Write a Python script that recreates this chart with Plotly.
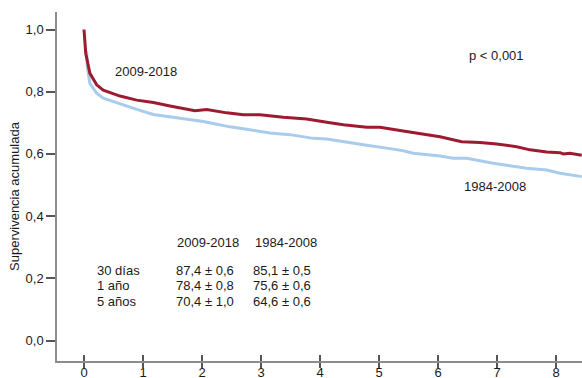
import plotly.graph_objects as go

# Kaplan-Meier survival, 2009-2018 cohort (years, cumulative survival)
t_recent = [0.0, 0.03, 0.10, 0.215, 0.327, 0.61, 0.893, 1.175, 1.458, 1.741, 1.881,
            2.08, 2.419, 2.70, 2.983, 3.378, 3.775, 4.114, 4.395, 4.792, 5.017,
            5.356, 5.695, 6.034, 6.402, 6.712, 6.995, 7.334, 7.559, 7.842, 8.068,
            8.124, 8.237, 8.436]
s_recent = [1.0, 0.923, 0.859, 0.822, 0.805, 0.786, 0.773, 0.765, 0.754, 0.743, 0.739,
            0.743, 0.732, 0.726, 0.726, 0.718, 0.712, 0.702, 0.694, 0.686, 0.686,
            0.675, 0.666, 0.655, 0.639, 0.637, 0.632, 0.623, 0.613, 0.606, 0.604,
            0.600, 0.602, 0.596]

# Kaplan-Meier survival, 1984-2008 cohort
t_old = [0.046, 0.056, 0.10, 0.215, 0.327, 0.61, 0.893, 1.175, 1.458, 1.741, 2.022,
         2.192, 2.475, 2.758, 3.153, 3.492, 3.886, 4.114, 4.453, 4.792, 5.186,
         5.412, 5.581, 6.034, 6.259, 6.486, 6.937, 7.276, 7.503, 7.842, 8.068, 8.436]
s_old = [0.929, 0.880, 0.827, 0.795, 0.779, 0.760, 0.743, 0.727, 0.720, 0.712, 0.704,
         0.698, 0.687, 0.679, 0.667, 0.662, 0.650, 0.648, 0.637, 0.628, 0.617,
         0.610, 0.602, 0.593, 0.586, 0.586, 0.570, 0.561, 0.554, 0.548, 0.538, 0.527]

x_ticks = [0, 1, 2, 3, 4, 5, 6, 7, 8]
y_ticks = [0.0, 0.2, 0.4, 0.6, 0.8, 1.0]
y_tick_labels = ["0,0", "0,2", "0,4", "0,6", "0,8", "1,0"]

# Summary table: survival (%) ± SE at fixed times
table_header = ["2009-2018", "1984-2008"]
table_rows = ["30 días", "1 año", "5 años"]
table_recent = ["87,4 ± 0,6", "78,4 ± 0,8", "70,4 ± 1,0"]
table_old = ["85,1 ± 0,5", "75,6 ± 0,6", "64,6 ± 0,6"]

RED = "#9e1b2f"
BLUE = "#a9cbec"
AXIS = "#8c8c8c"
TXT = "#1a1a1a"
FONT = "Liberation Sans, Arial, sans-serif"

fig = go.Figure()
fig.add_trace(go.Scatter(x=t_old, y=s_old, mode="lines",
                         line=dict(color=BLUE, width=3), hoverinfo="skip"))
fig.add_trace(go.Scatter(x=t_recent, y=s_recent, mode="lines",
                         line=dict(color=RED, width=3), hoverinfo="skip"))
# invisible trace to carry the overlay axis that draws the upper half of x ticks
fig.add_trace(go.Scatter(x=[x_ticks[0]], y=[0.5], xaxis="x2", mode="markers",
                         marker=dict(opacity=0), hoverinfo="skip"))

x_range = [-0.4576, 8.4407]
y_range = [-0.0659, 1.0563]

fig.update_layout(
    width=582, height=378,
    margin=dict(l=57, r=0, t=12, b=17),
    paper_bgcolor="white", plot_bgcolor="white",
    showlegend=False,
    font=dict(family=FONT, size=13, color=TXT),
    xaxis=dict(range=x_range, showgrid=False, zeroline=False, automargin=False,
               showline=True, linecolor=AXIS, linewidth=1.5,
               tickvals=x_ticks, ticks="outside", ticklen=5, tickwidth=1.5,
               tickcolor="#555555", tickfont=dict(size=13, color=TXT),
               ticklabelstandoff=-6),
    xaxis2=dict(range=x_range, overlaying="x", anchor="y", side="bottom",
                showgrid=False, zeroline=False, showline=False, automargin=False,
                tickvals=x_ticks, ticks="inside", ticklen=6, tickwidth=1.5,
                tickcolor="#555555", showticklabels=False),
    yaxis=dict(range=y_range, showgrid=False, zeroline=False, automargin=False,
               showline=True, linecolor=AXIS, linewidth=1.5,
               tickvals=y_ticks, ticktext=y_tick_labels,
               ticks="outside", ticklen=9, tickwidth=1.5, tickcolor="#555555",
               tickfont=dict(size=13, color=TXT), ticklabelstandoff=0),
)

anns = [
    dict(text="Supervivencia acumulada", xref="paper", yref="paper",
         x=-0.08, y=0.473, textangle=-90, xanchor="center", yanchor="middle"),
    dict(text="2009-2018", x=1.056, y=0.864, xanchor="center", yanchor="middle"),
    dict(text="p < 0,001", x=6.995, y=0.918, xanchor="center", yanchor="middle"),
    dict(text="1984-2008", x=6.958, y=0.4945, xanchor="center", yanchor="middle"),
    dict(text=table_header[0], x=1.542, y=0.315, xanchor="left", yanchor="middle"),
    dict(text=table_header[1], x=2.869, y=0.315, xanchor="left", yanchor="middle"),
]
row_y = [0.2244, 0.1768, 0.127]
for lab, a, b, yy in zip(table_rows, table_recent, table_old, row_y):
    anns.append(dict(text=lab, x=0.186, y=yy, xanchor="left", yanchor="middle"))
    anns.append(dict(text=a, x=1.531, y=yy, xanchor="left", yanchor="middle"))
    anns.append(dict(text=b, x=2.831, y=yy, xanchor="left", yanchor="middle"))

for a in anns:
    a.setdefault("xref", "x")
    a.setdefault("yref", "y")
    a["showarrow"] = False
    a["font"] = dict(family=FONT, size=13, color=TXT)
fig.update_layout(annotations=anns)

fig.write_html("out.html")
